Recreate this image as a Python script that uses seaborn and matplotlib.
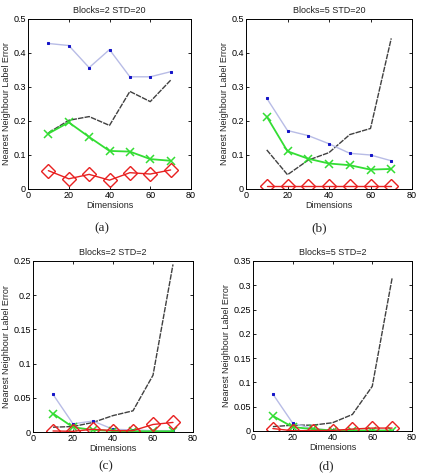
import matplotlib
matplotlib.use("Agg")
import matplotlib.pyplot as plt
import seaborn as sns
import numpy as np
from matplotlib.ticker import FuncFormatter, MultipleLocator

sns.set_style("ticks")
plt.rcParams['font.family'] = ['Liberation Sans', 'DejaVu Sans']

dims = [10, 20, 30, 40, 50, 60, 70]

# Panel (a) Blocks=2 STD=20
a_blue = [0.428, 0.422, 0.357, 0.410, 0.330, 0.330, 0.345]
a_black = [0.165, 0.202, 0.213, 0.187, 0.287, 0.257, 0.320]
a_green = [0.163, 0.196, 0.153, 0.112, 0.110, 0.088, 0.083]
a_red = [0.054, 0.030, 0.043, 0.026, 0.048, 0.044, 0.056]

# Panel (b) Blocks=5 STD=20
b_blue = [0.267, 0.172, 0.157, 0.133, 0.105, 0.100, 0.083]
b_black = [0.115, 0.042, 0.085, 0.107, 0.160, 0.178, 0.443]
b_green = [0.213, 0.111, 0.089, 0.075, 0.070, 0.057, 0.059]
b_red = [0.009, 0.009, 0.009, 0.009, 0.009, 0.009, 0.009]

# Panel (c) Blocks=2 STD=2
c_blue = [0.055, 0.012, 0.016, 0.004, 0.003, 0.002, 0.002]
c_black = [0.007, 0.008, 0.014, 0.024, 0.031, 0.083, 0.245]
c_green = [0.027, 0.007, 0.003, 0.0015, 0.001, 0.001, 0.001]
c_red = [0.0015, 0.001, 0.004, 0.002, 0.002, 0.011, 0.014]

# Panel (d) Blocks=5 STD=2
d_blue = [0.076, 0.016, 0.005, 0.0015, 0.001, 0.001, 0.001]
d_black = [0.009, 0.012, 0.012, 0.017, 0.034, 0.092, 0.315]
d_green = [0.031, 0.008, 0.004, 0.001, 0.001, 0.001, 0.001]
d_red = [0.005, 0.0005, 0.001, 0.001, 0.004, 0.006, 0.006]

titles = ["Blocks=2 STD=20", "Blocks=5 STD=20", "Blocks=2 STD=2", "Blocks=5 STD=2"]
captions = ["(a)", "(b)", "(c)", "(d)"]
ymaxes = [0.5, 0.5, 0.25, 0.35]
ysteps = [0.1, 0.1, 0.05, 0.05]
panels = [
    (a_blue, a_black, a_green, a_red),
    (b_blue, b_black, b_green, b_red),
    (c_blue, c_black, c_green, c_red),
    (d_blue, d_black, d_green, d_red),
]

W, H = 426, 475
rects = [
    (28, 19, 191, 189),
    (246, 19, 412, 189),
    (33, 261, 193, 432),
    (253, 261, 412, 431),
]
cap_pos = [(102, 228), (319, 228), (106, 466), (326, 466)]

fig = plt.figure(figsize=(W / 100, H / 100), dpi=100)
fs = 6.5

for i, (blue, black, green, red) in enumerate(panels):
    l, t, r, b = rects[i]
    ax = fig.add_axes([l / W, 1 - b / H, (r - l) / W, (b - t) / H])
    sns.lineplot(x=dims, y=black, ax=ax, color="#404040", lw=1.0,
                 linestyle=(0, (4, 0.8)))
    sns.lineplot(x=dims, y=blue, ax=ax, color="#b8bce6", lw=1.0,
                 marker="s", markersize=1.8, markerfacecolor="#1515c8",
                 markeredgecolor="#1515c8")
    sns.lineplot(x=dims, y=green, ax=ax, color="#33dd33", lw=1.3,
                 marker="x", markersize=5.5, markeredgewidth=1.1,
                 markeredgecolor="#33dd33")
    sns.lineplot(x=dims, y=red, ax=ax, color="#e82020", lw=1.0,
                 marker="D", markersize=7, markerfacecolor="none",
                 markeredgecolor="#e82020", markeredgewidth=1.0)
    ax.set_xlim(0, 80)
    ax.set_ylim(0, ymaxes[i])
    ax.xaxis.set_major_locator(MultipleLocator(20))
    ax.yaxis.set_major_locator(MultipleLocator(ysteps[i]))
    ax.yaxis.set_major_formatter(FuncFormatter(lambda v, p: "%g" % round(v, 3)))
    ax.tick_params(direction="in", length=2.5, width=0.6, labelsize=fs,
                   top=True, right=True, pad=1.5, colors="black")
    for sp in ax.spines.values():
        sp.set_color("black")
        sp.set_linewidth(0.7)
    ax.set_title(titles[i], fontsize=fs, pad=4, color="#222222")
    ax.set_xlabel("Dimensions", fontsize=fs, labelpad=0.5)
    ax.set_ylabel("Nearest Neighbour Label Error", fontsize=fs, labelpad=2)
    cx, cy = cap_pos[i]
    fig.text(cx / W, 1 - cy / H, captions[i], ha="center", va="center",
             fontsize=9.5, family=["Liberation Serif", "DejaVu Serif"])

fig.savefig("out.png", dpi=100)
